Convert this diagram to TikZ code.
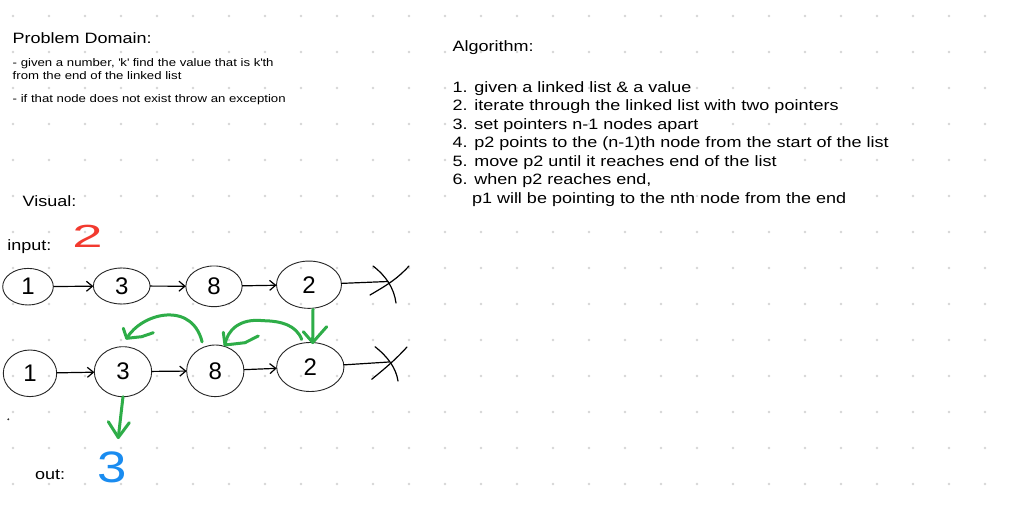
\documentclass[tikz,border=0pt]{standalone}
\usepackage{fontspec}
\setmainfont[FakeStretch=1.2]{Liberation Sans}
\newfontfamily\handfont{Liberation Sans}
\usetikzlibrary{shapes.geometric,arrows.meta,calc}
\definecolor{gridc}{HTML}{D6D6D6}
\definecolor{hgreen}{HTML}{2EAD48}
\definecolor{hred}{HTML}{F23A2F}
\definecolor{hblue}{HTML}{1A8CF0}
\begin{document}
\begin{tikzpicture}[x=1pt,y=-1pt,
  txt/.style={anchor=base west, inner sep=0pt, outer sep=0pt},
  big/.style={font=\fontsize{15}{18}\selectfont},
  small/.style={font=\fontsize{11}{13}\selectfont},
  lnode/.style={ellipse, draw=black!85, line width=0.9pt, inner sep=0pt, outer sep=0pt, font=\handfont\fontsize{24}{24}\selectfont},
  link/.style={draw=black, line width=1.2pt, -{Straight Barb[length=6pt,width=10pt]}},
  sk/.style={draw=black, line width=1.2pt, line cap=round},
  gr/.style={draw=hgreen, line width=3pt, line cap=round, line join=round},
]
\useasboundingbox[fill=white] (0,0) rectangle (1009,505);
\foreach \i in {0,...,27} \foreach \j in {0,...,13} \fill[gridc] (13+36*\i,16+36*\j) circle (1.3pt);

% problem domain
\node[txt,big] (pd) at (12.7,43.3) {Problem Domain:};
\node[txt,small] (pd1) at (12.7,66.7) {- given a number, \textquotesingle k\textquotesingle\ find the value that is k\textquotesingle th};
\node[txt,small] (pd2) at (12.7,79.3) {from the end of the linked list};
\node[txt,small] (pd3) at (12.7,103) {- if that node does not exist throw an exception};

% algorithm
\node[txt,big] (alg) at (452.7,51.7) {Algorithm:};
\node[txt,big] (a1) at (452.7,92.3) {1. given a linked list \& a value};
\node[txt,big] (a2) at (452.7,110.8) {2. iterate through the linked list with two pointers};
\node[txt,big] (a3) at (452.7,129.3) {3. set pointers n-1 nodes apart};
\node[txt,big] (a4) at (452.7,147.8) {4. p2 points to the (n-1)th node from the start of the list};
\node[txt,big] (a5) at (452.7,166.3) {5. move p2 until it reaches end of the list};
\node[txt,big] (a6) at (452.7,184.8) {6. when p2 reaches end,};
\node[txt,big] (a7) at (472,203.3) {p1 will be pointing to the nth node from the end};

% visual labels
\node[txt,big] (vis) at (22.7,206.7) {Visual:};
\node[txt,big] (inp) at (7.3,250) {input:};
\node[txt,big] (outl) at (35,479) {out:};
\node[inner sep=0pt, text=hred, font=\handfont\fontsize{32}{32}\selectfont] (in2) at (87.5,236.7) {\scalebox{1.7}[1]{2}};
\node[inner sep=0pt, text=hblue, font=\handfont\fontsize{44}{44}\selectfont] (out3) at (112,467.5) {\scalebox{1.2}[1]{3}};
\fill[black!80] (8.3,419.3) circle (1.1pt);

% row 1
\node[lnode, minimum width=50.6pt, minimum height=36.6pt] (n1) at (28,286.7) {1};
\node[lnode, minimum width=56.7pt, minimum height=36pt] (n3) at (121.7,286) {3};
\node[lnode, minimum width=56.3pt, minimum height=40.7pt] (n8) at (214,286.3) {8};
\node[lnode, minimum width=65pt, minimum height=47.3pt] (n2) at (309,284.7) {2};
\draw[link] (n1) -- (n3);
\draw[link] (n3) -- (n8);
\draw[link] (n8) -- (n2);
\coordinate (z1) at (388,281.5);
\draw[sk] (n2) -- (z1);
\draw[sk] (373,266) .. controls (386,276) and (394,288) .. (396,303);
\draw[sk] (409,266) .. controls (398,278) and (389,284) .. (370,295);

% row 2
\node[lnode, minimum width=53.4pt, minimum height=46.6pt] (m1) at (30,373.3) {1};
\node[lnode, minimum width=57.4pt, minimum height=50pt] (m3) at (123,371.7) {3};
\node[lnode, minimum width=57.3pt, minimum height=51.6pt] (m8) at (215.3,370.8) {8};
\node[lnode, minimum width=67.3pt, minimum height=49pt] (m2) at (310.3,367) {2};
\draw[link] (m1) -- (m3);
\draw[link] (m3) -- (m8);
\draw[link] (m8) -- (m2);
\coordinate (z2) at (389,362);
\draw[sk] (m2) -- (z2);
\draw[sk] (375,346.7) .. controls (388,357) and (396,368) .. (398,381);
\draw[sk] (407,347) .. controls (396,359) and (388,366) .. (371.7,379.3);

% green pointer arrows
\coordinate (ta) at ([xshift=3.7pt,yshift=8.4pt]m3.north);
\draw[gr] ([yshift=6pt]m8.120) .. controls (198,325) and (186,314) .. (166.7,315) .. controls (150,316) and (134,326) .. (ta);
\draw[gr] (123.3,328.3) -- (ta) -- (141.7,336.7) -- (153.3,332.7);

\coordinate (tb) at ([xshift=9.7pt]m8.north);
\draw[gr] ([yshift=4pt]m2.110) .. controls (296,325) and (281,321) .. (263.3,320.7) .. controls (240,318) and (227,330) .. (tb);
\draw[gr] (223.3,332.3) -- (tb) -- (245,342.7) -- (258.3,336);

\coordinate (tc) at ([xshift=2.4pt]m2.north);
\draw[gr] ([xshift=4pt,yshift=-1pt]n2.south) -- (tc);
\draw[gr] (303.3,331.7) -- (tc) -- (326.7,326.7);

\coordinate (td) at (118.3,437.5);
\draw[gr] (m3.south) -- (td);
\draw[gr] (108.3,421.7) -- (td) -- (129.3,422.7);
\end{tikzpicture}
\end{document}
